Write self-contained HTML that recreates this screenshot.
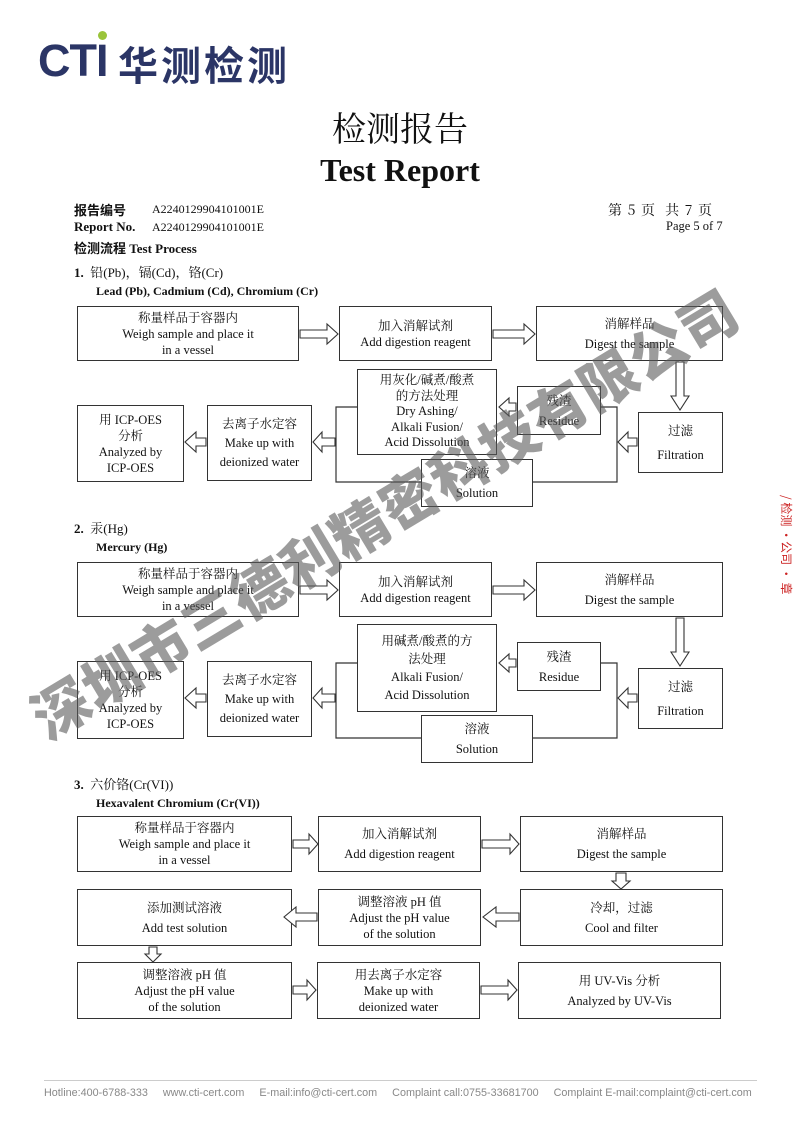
<!DOCTYPE html>
<html><head><meta charset="utf-8"><style>
*{margin:0;padding:0;box-sizing:border-box}
body{width:800px;height:1130px;background:#fff;position:relative;overflow:hidden;font-family:"Liberation Serif","Noto Serif CJK SC",serif;color:#111}
.a{position:absolute;white-space:nowrap}
.b{position:absolute;border:1.3px solid #333;background:#fff;display:flex;flex-direction:column;align-items:center;justify-content:center;text-align:center;font-size:12.5px;line-height:16px}
svg{position:absolute;left:0;top:0}
</style></head><body>
<!-- logo -->
<div class="a" style="left:38px;top:37px;font-family:'Liberation Sans',sans-serif;font-weight:bold;font-size:45px;color:#2b3566;letter-spacing:-1px;line-height:48px">CTI</div>
<div style="position:absolute;left:98px;top:31px;width:9px;height:9px;border-radius:50%;background:#9ac43a"></div>
<div class="a" style="left:118px;top:40px;font-family:'Noto Sans CJK SC',sans-serif;font-weight:bold;font-size:40px;color:#2b3566;letter-spacing:3px;line-height:46px">华测检测</div>

<div class="a" style="left:0;width:800px;text-align:center;top:106px;font-size:34px;font-family:'Noto Serif CJK SC',serif;line-height:42px">检测报告</div>
<div class="a" style="left:0;width:800px;text-align:center;top:150px;font-size:32px;font-weight:bold;line-height:40px">Test Report</div>

<div class="a" style="left:74px;top:200px;font-size:13px;font-weight:bold;font-family:'Noto Sans CJK SC',sans-serif">报告编号</div>
<div class="a" style="left:152px;top:202px;font-size:12px">A2240129904101001E</div>
<div class="a" style="left:74px;top:219px;font-size:13px;font-weight:bold">Report No.</div>
<div class="a" style="left:152px;top:220px;font-size:12px">A2240129904101001E</div>
<div class="a" style="left:608px;top:200px;font-size:14px;font-family:'Noto Serif CJK SC',serif;letter-spacing:1px">第 5 页&nbsp; 共 7 页</div>
<div class="a" style="left:666px;top:219px;font-size:12.5px">Page 5 of 7</div>
<div class="a" style="left:74px;top:238px;font-size:13px;font-weight:bold"><span style="font-family:'Noto Sans CJK SC',sans-serif">检测流程</span> Test Process</div>

<div class="a" style="left:74px;top:262px;font-size:13px"><b>1.</b>&nbsp; 铅(Pb)，镉(Cd)，铬(Cr)</div>
<div class="a" style="left:96px;top:284px;font-size:12px;font-weight:bold">Lead (Pb), Cadmium (Cd), Chromium (Cr)</div>

<div class="a" style="left:74px;top:518px;font-size:13px"><b>2.</b>&nbsp; 汞(Hg)</div>
<div class="a" style="left:96px;top:540px;font-size:12px;font-weight:bold">Mercury (Hg)</div>

<div class="a" style="left:74px;top:774px;font-size:13px"><b>3.</b>&nbsp; 六价铬(Cr(VI))</div>
<div class="a" style="left:96px;top:796px;font-size:12px;font-weight:bold">Hexavalent Chromium (Cr(VI))</div>

<svg width="800" height="1130" fill="#fff" stroke="#333" stroke-width="1.2">
<polyline points="357,407 336,407 336,482 617,482 617,407 600,407" fill="none"/>
<polyline points="357,663 336,663 336,738 617,738 617,663 600,663" fill="none"/>
</svg>

<!-- Section 1 -->
<div class="b" style="left:77px;top:306px;width:222px;height:55px"><span>称量样品于容器内</span><span>Weigh sample and place it</span><span>in a vessel</span></div>
<div class="b" style="left:339px;top:306px;width:153px;height:55px"><span>加入消解试剂</span><span>Add digestion reagent</span></div>
<div class="b" style="left:536px;top:306px;width:187px;height:55px;line-height:20px"><span>消解样品</span><span>Digest the sample</span></div>
<div class="b" style="left:357px;top:369px;width:140px;height:86px;line-height:15.5px"><span>用灰化/碱煮/酸煮</span><span>的方法处理</span><span>Dry Ashing/</span><span>Alkali Fusion/</span><span>Acid Dissolution</span></div>
<div class="b" style="left:517px;top:386px;width:84px;height:49px;line-height:20px"><span>残渣</span><span>Residue</span></div>
<div class="b" style="left:638px;top:412px;width:85px;height:61px;line-height:24px"><span>过滤</span><span>Filtration</span></div>
<div class="b" style="left:421px;top:459px;width:112px;height:48px;line-height:20px"><span>溶液</span><span>Solution</span></div>
<div class="b" style="left:207px;top:405px;width:105px;height:76px;line-height:19px"><span>去离子水定容</span><span>Make up with</span><span>deionized water</span></div>
<div class="b" style="left:77px;top:405px;width:107px;height:77px"><span>用 ICP-OES</span><span>分析</span><span>Analyzed by</span><span>ICP-OES</span></div>

<!-- Section 2 -->
<div class="b" style="left:77px;top:562px;width:222px;height:55px"><span>称量样品于容器内</span><span>Weigh sample and place it</span><span>in a vessel</span></div>
<div class="b" style="left:339px;top:562px;width:153px;height:55px"><span>加入消解试剂</span><span>Add digestion reagent</span></div>
<div class="b" style="left:536px;top:562px;width:187px;height:55px;line-height:20px"><span>消解样品</span><span>Digest the sample</span></div>
<div class="b" style="left:357px;top:624px;width:140px;height:88px;line-height:18px"><span>用碱煮/酸煮的方</span><span>法处理</span><span>Alkali Fusion/</span><span>Acid Dissolution</span></div>
<div class="b" style="left:517px;top:642px;width:84px;height:49px;line-height:20px"><span>残渣</span><span>Residue</span></div>
<div class="b" style="left:638px;top:668px;width:85px;height:61px;line-height:24px"><span>过滤</span><span>Filtration</span></div>
<div class="b" style="left:421px;top:715px;width:112px;height:48px;line-height:20px"><span>溶液</span><span>Solution</span></div>
<div class="b" style="left:207px;top:661px;width:105px;height:76px;line-height:19px"><span>去离子水定容</span><span>Make up with</span><span>deionized water</span></div>
<div class="b" style="left:77px;top:661px;width:107px;height:78px"><span>用 ICP-OES</span><span>分析</span><span>Analyzed by</span><span>ICP-OES</span></div>

<!-- Section 3 -->
<div class="b" style="left:77px;top:816px;width:215px;height:56px"><span>称量样品于容器内</span><span>Weigh sample and place it</span><span>in a vessel</span></div>
<div class="b" style="left:318px;top:816px;width:163px;height:56px;line-height:20px"><span>加入消解试剂</span><span>Add digestion reagent</span></div>
<div class="b" style="left:520px;top:816px;width:203px;height:56px;line-height:20px"><span>消解样品</span><span>Digest the sample</span></div>
<div class="b" style="left:77px;top:889px;width:215px;height:57px;line-height:20px"><span>添加测试溶液</span><span>Add test solution</span></div>
<div class="b" style="left:318px;top:889px;width:163px;height:57px"><span>调整溶液 pH 值</span><span>Adjust the pH value</span><span>of the solution</span></div>
<div class="b" style="left:520px;top:889px;width:203px;height:57px;line-height:20px"><span>冷却，过滤</span><span>Cool and filter</span></div>
<div class="b" style="left:77px;top:962px;width:215px;height:57px"><span>调整溶液 pH 值</span><span>Adjust the pH value</span><span>of the solution</span></div>
<div class="b" style="left:317px;top:962px;width:163px;height:57px"><span>用去离子水定容</span><span>Make up with</span><span>deionized water</span></div>
<div class="b" style="left:518px;top:962px;width:203px;height:57px;line-height:20px"><span>用 UV-Vis 分析</span><span>Analyzed by UV-Vis</span></div>

<svg width="800" height="1130" fill="#fff" stroke="#333" stroke-width="1.1">
<path d="M300,330 H327 V324 L338,334 L327,344 V338 H300 Z"/>
<path d="M493,330 H524 V324 L535,334 L524,344 V338 H493 Z"/>
<path d="M300,586 H327 V580 L338,590 L327,600 V594 H300 Z"/>
<path d="M493,586 H524 V580 L535,590 L524,600 V594 H493 Z"/>
<path d="M676,362 V396 H671 L680,410 L689,396 H684 V362 Z"/>
<path d="M676,618 V652 H671 L680,666 L689,652 H684 V618 Z"/>
<path d="M637,438 H628 V432 L618,442 L628,452 V446 H637 Z"/>
<path d="M516,403 H509 V398 L499,407 L509,416 V411 H516 Z"/>
<path d="M335,438 H322 V432 L313,442 L322,452 V446 H335 Z"/>
<path d="M206,438 H196 V432 L185,442 L196,452 V446 H206 Z"/>
<path d="M637,694 H628 V688 L618,698 L628,708 V702 H637 Z"/>
<path d="M516,659 H509 V654 L499,663 L509,672 V667 H516 Z"/>
<path d="M335,694 H322 V688 L313,698 L322,708 V702 H335 Z"/>
<path d="M206,694 H196 V688 L185,698 L196,708 V702 H206 Z"/>
<path d="M293,840 H309 V834 L318,844 L309,854 V848 H293 Z"/>
<path d="M482,840 H510 V834 L519,844 L510,854 V848 H482 Z"/>
<path d="M616,873 V881 H612 L621,889 L630,881 H626 V873 Z"/>
<path d="M519,913 H496 V907 L483,917 L496,927 V921 H519 Z"/>
<path d="M317,913 H296 V907 L284,917 L296,927 V921 H317 Z"/>
<path d="M149,947 V954 H145 L153,962 L161,954 H157 V947 Z"/>
<path d="M293,986 H307 V980 L316,990 L307,1000 V994 H293 Z"/>
<path d="M481,986 H508 V980 L517,990 L508,1000 V994 H481 Z"/>
</svg>

<!-- watermark -->
<div class="a" style="left:20px;top:695px;font-family:'Noto Sans CJK SC',sans-serif;font-weight:900;font-size:57px;color:rgba(90,90,90,0.6);transform:rotate(-31deg);transform-origin:left top;letter-spacing:1px;line-height:60px">深圳市三德利精密科技有限公司</div>

<div class="a" style="top:495px;font-size:12px;color:#c22;transform:rotate(90deg);transform-origin:left top;left:795px;font-family:'Noto Sans CJK SC',sans-serif">/ 检测 ·公司 · 章</div>

<div style="position:absolute;left:44px;top:1080px;width:713px;border-top:1px solid #ccc"></div>
<div class="a" style="left:44px;top:1087px;font-family:'Liberation Sans',sans-serif;font-size:10.8px;color:#888">Hotline:400-6788-333&nbsp;&nbsp;&nbsp;&nbsp; www.cti-cert.com&nbsp;&nbsp;&nbsp;&nbsp; E-mail:info@cti-cert.com&nbsp;&nbsp;&nbsp;&nbsp; Complaint call:0755-33681700&nbsp;&nbsp;&nbsp;&nbsp; Complaint E-mail:complaint@cti-cert.com</div>
</body></html>
